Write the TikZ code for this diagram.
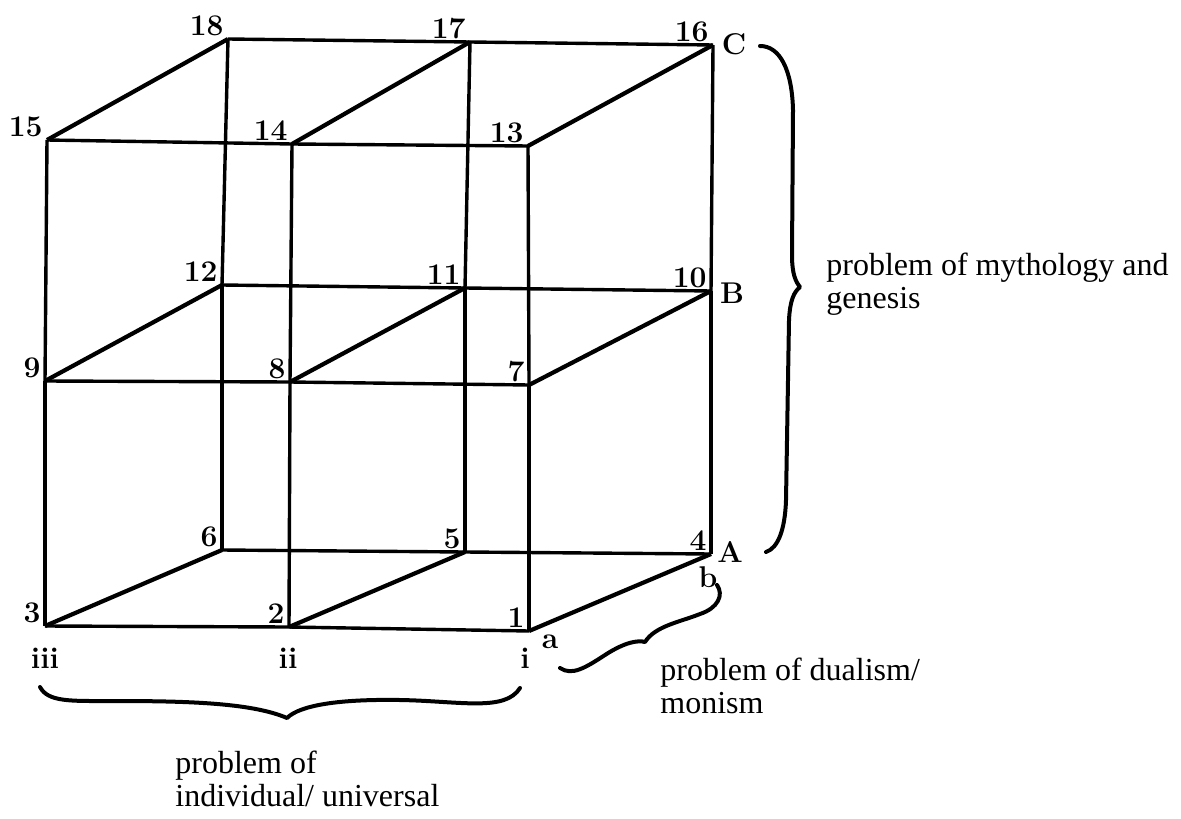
\documentclass[tikz,border=0pt]{standalone}
\usepackage{fontspec}
\newfontfamily\txtfont{Liberation Serif}
\begin{document}
\begin{tikzpicture}[x=0.5pt,y=-0.5pt,line join=round,
  edge/.style={line width=1.7pt},
  depth/.style={line width=2.1pt},
  num/.style={anchor=south east,inner sep=0pt,font=\fontsize{15}{15}\selectfont\bfseries},
  lbl/.style={inner sep=0pt,font=\fontsize{15}{15}\selectfont\bfseries},
  brc/.style={line width=2pt,line cap=round},
  txt/.style={anchor=north west,align=left,inner sep=0pt,font=\fontsize{16}{16.5}\txtfont}]
  \useasboundingbox (0,0) rectangle (1181,818);
  % corners of the cube (front face, then back face)
  \foreach \n/\x/\y in {3/45/626,2/289/627,1/529/631,9/45/381,8/290/382,7/529/385,
      15/47/140,14/292/144,13/528/146}
    {\coordinate (p\n) at (\x,\y);}
  \foreach \n/\x/\y in {6/222/550,5/465/552,4/711/554,12/222/285,11/465/288,10/711/291,
      18/228/39,17/470/42,16/713/45}
    {\coordinate (p\n) at (\x,\y);}
  % edges
  \foreach \a/\b in {3/2,2/1,9/8,8/7,15/14,14/13,6/5,5/4,12/11,11/10,18/17,17/16,
      3/9,9/15,2/8,8/14,1/7,7/13,6/12,12/18,5/11,11/17,4/10,10/16}
    {\draw[edge] (p\a) -- (p\b);}
  \foreach \a/\b in {3/6,2/5,1/4,9/12,8/11,7/10,15/18,14/17,13/16}
    {\draw[depth] (p\a) -- (p\b);}
  % numbers
  \foreach \n in {1,...,18}
    {\node[num] (n\n) at ([shift={(-4,-3)}]p\n) {\n};}
  % letters
  \node[lbl] (lC) at (734,44) {C};
  \node[lbl] (lB) at (732,293) {B};
  \node[lbl] (lA) at (730,552) {A};
  \node[lbl] (lb) at (708,577) {b};
  \node[lbl] (la) at (550,642) {a};
  \node[lbl] (li) at (525,658) {i};
  \node[lbl] (lii) at (288,658) {ii};
  \node[lbl] (liii) at (45,658) {iii};
  % braces
  \draw[brc] (760,46) .. controls (780,46) and (792,70) .. (793,110)
    -- (792,255) .. controls (792,275) and (796,282) .. (800,287)
    .. controls (794,292) and (790,300) .. (789,320)
    -- (786,500) .. controls (785,530) and (778,548) .. (766,552);
  \draw[brc] (40,687) .. controls (48,702) and (70,701) .. (110,701)
    .. controls (180,701) and (250,702) .. (287,718)
    .. controls (300,705) and (340,699) .. (400,700)
    .. controls (460,701) and (505,712) .. (520,688);
  \draw[brc] (717,585) .. controls (724,595) and (718,608) .. (700,614)
    .. controls (680,622) and (655,626) .. (645,642)
    .. controls (638,640) and (625,642) .. (605,655)
    .. controls (585,668) and (572,676) .. (560,668);
  % texts
  \node[txt] (tmyth) at (826,253) {problem of mythology and\\genesis};
  \node[txt] (tdual) at (660,658) {problem of dualism/\\monism};
  \node[txt] (tindiv) at (175,751) {problem of\\individual/ universal};
\end{tikzpicture}
\end{document}
